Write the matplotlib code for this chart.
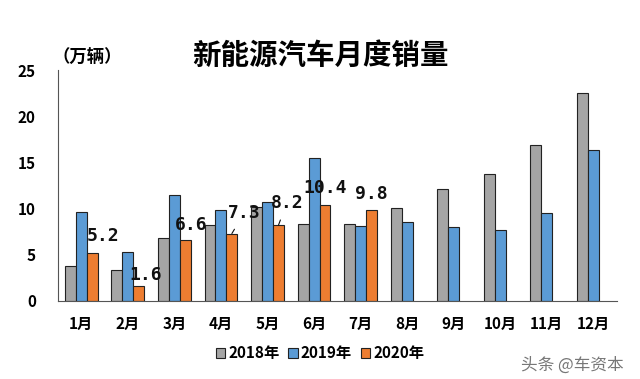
import matplotlib
matplotlib.use("Agg")
import matplotlib.pyplot as plt
import numpy as np

plt.rcParams['font.family'] = ['Noto Sans CJK SC', 'DejaVu Sans']

months = ['1月', '2月', '3月', '4月', '5月', '6月', '7月', '8月', '9月', '10月', '11月', '12月']
sales_2018 = [3.8, 3.4, 6.8, 8.2, 10.2, 8.3, 8.3, 10.1, 12.1, 13.7, 16.9, 22.5]
sales_2019 = [9.6, 5.3, 11.5, 9.8, 10.7, 15.5, 8.1, 8.5, 8.0, 7.7, 9.5, 16.4]
sales_2020 = [5.2, 1.6, 6.6, 7.3, 8.2, 10.4, 9.8]
series_names = ['2018年', '2019年', '2020年']
y_ticks = [0, 5, 10, 15, 20, 25]

colors = ['#A5A5A5', '#5B9BD5', '#ED7D31']

fig = plt.figure(figsize=(6.4, 3.79), dpi=100)
ax = fig.add_axes([0.0906, 0.206, 0.873, 0.609])

x = np.arange(len(months))
w = 0.235
b1 = ax.bar(x - w, sales_2018, w, color=colors[0], edgecolor='#222222', linewidth=0.8, label=series_names[0])
b2 = ax.bar(x, sales_2019, w, color=colors[1], edgecolor='#222222', linewidth=0.8, label=series_names[1])
x20 = np.arange(len(sales_2020))
b3 = ax.bar(x20 + w, sales_2020, w, color=colors[2], edgecolor='#222222', linewidth=0.8, label=series_names[2])

# data labels (offsets in points: style only)
offsets = [(8, 12), (5, 8), (4, 11), (9, 15), (6, 16), (0, 12), (0, 12)]
leaders = [False, False, False, True, True, False, False]
for i, v in enumerate(sales_2020):
    dx, dy = offsets[i]
    ax.annotate(f'{v:.1f}', xy=(i + w, v), xytext=(dx, dy), textcoords='offset points',
                ha='center', va='center', fontsize=13, family='DejaVu Sans Mono',
                fontweight='bold', color='#111111',
                arrowprops=dict(arrowstyle='-', color='#111111', lw=0.8, shrinkA=4, shrinkB=0) if leaders[i] else None)

ax.set_xlim(-0.5, len(months) - 0.5)
ax.set_ylim(0, 25)
ax.set_yticks(y_ticks)
ax.set_xticks(x)
ax.set_xticklabels(months)
ax.tick_params(axis='both', length=0, labelsize=11)
ax.tick_params(axis='y', pad=16)
ax.tick_params(axis='x', pad=11)
for lbl in ax.get_xticklabels() + ax.get_yticklabels():
    lbl.set_fontweight('bold')

for s in ['top', 'right']:
    ax.spines[s].set_visible(False)
ax.spines['left'].set_color('#555555')
ax.spines['bottom'].set_color('#555555')

fig.text(0.5, 0.852, '新能源汽车月度销量', ha='center', va='center', fontsize=20.5, fontweight='bold')
fig.text(0.082, 0.847, '（万辆）', ha='left', va='center', fontsize=12.5, fontweight='bold')

leg = fig.legend(handles=[b1, b2, b3], labels=series_names, loc='center', bbox_to_anchor=(0.5, 0.068),
                 ncol=3, frameon=False, handlelength=0.6, handleheight=0.6,
                 handletextpad=0.2, columnspacing=0.6, prop={'weight': 'bold', 'size': 11})

fig.text(0.895, 0.037, '头条 @车资本', ha='center', va='center', fontsize=12, color='#555555', alpha=0.8)

fig.savefig('out.png', dpi=100)
